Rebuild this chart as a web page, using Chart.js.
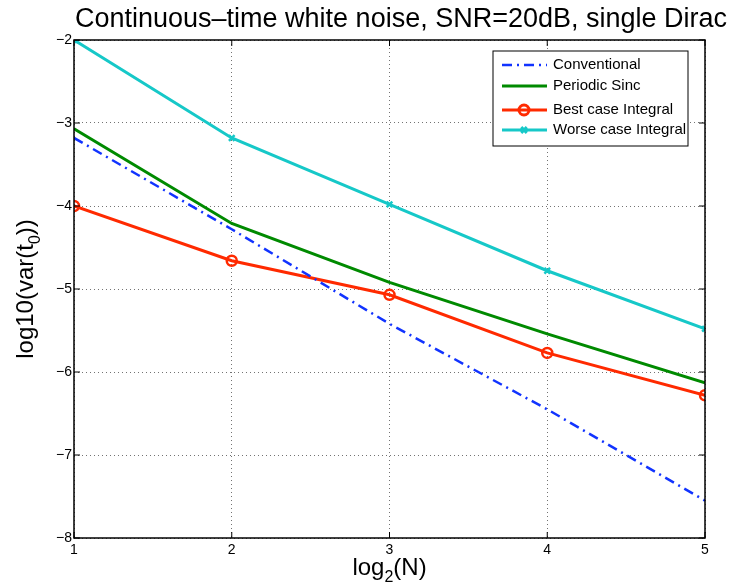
<!DOCTYPE html>
<html>
<head>
<meta charset="utf-8">
<script src="https://cdn.jsdelivr.net/npm/chart.js@4.4.0/dist/chart.umd.min.js"></script>
<style>
  html, body { margin: 0; padding: 0; background: #fff; }
  #wrap { width: 732px; height: 588px; }
</style>
</head>
<body>
<div id="wrap"><canvas id="c" width="732" height="588"></canvas></div>
<script>
// data
const xValues = [1, 2, 3, 4, 5];
const conventional = [-3.18, -4.28, -5.42, -6.45, -7.55];
const periodicSinc = [-3.07, -4.21, -4.92, -5.54, -6.13];
const bestIntegral = [-4.0, -4.66, -5.07, -5.77, -6.28];
const worseIntegral = [-2.0, -3.18, -3.98, -4.78, -5.48];
const seriesNames = ['Conventional', 'Periodic Sinc', 'Best case Integral', 'Worse case Integral'];
const xTicks = [1, 2, 3, 4, 5];
const yTicks = [-8, -7, -6, -5, -4, -3, -2];

const FONT = '"Liberation Sans", Arial, Helvetica, sans-serif';

function pts(ys) {
  return xValues.map((x, i) => ({ x: x, y: ys[i] }));
}

// title, axis labels with subscripts, box, inward ticks, legend
const decorPlugin = {
  id: 'decor',
  afterDraw(chart) {
    const ctx = chart.ctx;
    const a = chart.chartArea;
    const xs = chart.scales.x, ys = chart.scales.y;
    ctx.save();

    // box
    ctx.strokeStyle = '#000';
    ctx.lineWidth = 1.5;
    ctx.strokeRect(a.left, a.top, a.right - a.left, a.bottom - a.top);

    // inward ticks
    ctx.lineWidth = 1;
    xTicks.forEach(v => {
      const px = xs.getPixelForValue(v);
      ctx.beginPath();
      ctx.moveTo(px, a.bottom); ctx.lineTo(px, a.bottom - 6);
      ctx.moveTo(px, a.top); ctx.lineTo(px, a.top + 6);
      ctx.stroke();
    });
    yTicks.forEach(v => {
      const py = ys.getPixelForValue(v);
      ctx.beginPath();
      ctx.moveTo(a.left, py); ctx.lineTo(a.left + 6, py);
      ctx.moveTo(a.right, py); ctx.lineTo(a.right - 6, py);
      ctx.stroke();
    });

    // title
    ctx.fillStyle = '#000';
    ctx.font = '27px ' + FONT;
    ctx.textAlign = 'center';
    ctx.textBaseline = 'alphabetic';
    ctx.fillText('Continuous\u2013time white noise, SNR=20dB, single Dirac', 401, 27);

    // x label: log2(N)
    drawParts(ctx, [['log', 24, 0], ['2', 16, 7], ['(N)', 24, 0]], (a.left + a.right) / 2, 575);

    // y label: log10(var(t0))
    ctx.save();
    ctx.translate(33, (a.top + a.bottom) / 2);
    ctx.rotate(-Math.PI / 2);
    drawParts(ctx, [['log10(var(t', 24, 0], ['0', 16, 7], ['))', 24, 0]], 0, 0);
    ctx.restore();

    // legend
    const lx = 493, ly = 51, lw = 195, lh = 95;
    ctx.fillStyle = '#fff';
    ctx.fillRect(lx, ly, lw, lh);
    ctx.strokeStyle = '#000';
    ctx.lineWidth = 1;
    ctx.strokeRect(lx, ly, lw, lh);
    const rows = [65, 86, 110, 130];
    chart.data.datasets.forEach((ds, i) => {
      const y = rows[i];
      ctx.save();
      ctx.strokeStyle = ds.borderColor;
      ctx.lineWidth = ds.borderWidth;
      ctx.setLineDash(ds.borderDash || []);
      ctx.beginPath();
      ctx.moveTo(502, y); ctx.lineTo(547, y);
      ctx.stroke();
      ctx.setLineDash([]);
      if (ds.pointRadius > 0) {
        ctx.strokeStyle = ds.pointBorderColor;
        ctx.fillStyle = ds.pointBackgroundColor;
        Chart.helpers.drawPoint(ctx, {
          pointStyle: ds.pointStyle, radius: ds.pointRadius,
          borderWidth: ds.pointBorderWidth, rotation: 0
        }, 524, y);
      }
      ctx.restore();
      ctx.fillStyle = '#000';
      ctx.font = '15px ' + FONT;
      ctx.textAlign = 'left';
      ctx.textBaseline = 'middle';
      ctx.fillText(ds.label, 553, y);
    });
    ctx.restore();
  }
};

function drawParts(ctx, parts, cx, baseY) {
  let total = 0;
  parts.forEach(p => { ctx.font = p[1] + 'px ' + FONT; total += ctx.measureText(p[0]).width; });
  let x = cx - total / 2;
  ctx.textAlign = 'left';
  ctx.textBaseline = 'alphabetic';
  ctx.fillStyle = '#000';
  parts.forEach(p => {
    ctx.font = p[1] + 'px ' + FONT;
    ctx.fillText(p[0], x, baseY + p[2]);
    x += ctx.measureText(p[0]).width;
  });
}

new Chart(document.getElementById('c'), {
  type: 'line',
  data: {
    datasets: [
      {
        label: seriesNames[0], data: pts(conventional),
        borderColor: '#1133ff', borderWidth: 2.5, borderDash: [10, 5, 2, 5],
        pointRadius: 0, fill: false, tension: 0
      },
      {
        label: seriesNames[1], data: pts(periodicSinc),
        borderColor: '#008a00', borderWidth: 3,
        pointRadius: 0, fill: false, tension: 0
      },
      {
        label: seriesNames[2], data: pts(bestIntegral),
        borderColor: '#ff2a00', borderWidth: 3,
        pointStyle: 'circle', pointRadius: 5, pointBorderWidth: 2.5,
        pointBackgroundColor: 'rgba(255,255,255,0)', pointBorderColor: '#ff2a00',
        fill: false, tension: 0
      },
      {
        label: seriesNames[3], data: pts(worseIntegral),
        borderColor: '#16c8c8', borderWidth: 3,
        pointStyle: 'crossRot', pointRadius: 4, pointBorderWidth: 2.5,
        pointBackgroundColor: '#16c8c8', pointBorderColor: '#16c8c8',
        fill: false, tension: 0
      }
    ]
  },
  options: {
    responsive: false,
    animation: false,
    devicePixelRatio: 1,
    layout: { padding: { top: 40, right: 27, left: 0, bottom: 0 } },
    plugins: { legend: { display: false }, title: { display: false }, tooltip: { enabled: false } },
    scales: {
      x: {
        type: 'linear', min: 1, max: 5,
        afterFit: s => { s.height = 50; },
        afterBuildTicks: s => { s.ticks = xTicks.map(v => ({ value: v })); },
        border: { display: false, dash: [1, 3] },
        grid: { color: 'rgba(0,0,0,0.55)', tickLength: 0, drawTicks: false, lineWidth: 1 },
        ticks: { font: { family: FONT, size: 14 }, color: '#000', padding: 4, maxRotation: 0 }
      },
      y: {
        type: 'linear', min: -8, max: -2,
        afterFit: s => { s.width = 74; },
        afterBuildTicks: s => { s.ticks = yTicks.map(v => ({ value: v })); },
        border: { display: false, dash: [1, 3] },
        grid: { color: 'rgba(0,0,0,0.55)', tickLength: 0, drawTicks: false, lineWidth: 1 },
        ticks: {
          font: { family: FONT, size: 14 }, color: '#000', padding: 2,
          callback: v => String(v).replace('-', '\u2212')
        }
      }
    }
  },
  plugins: [decorPlugin]
});
</script>
</body>
</html>
